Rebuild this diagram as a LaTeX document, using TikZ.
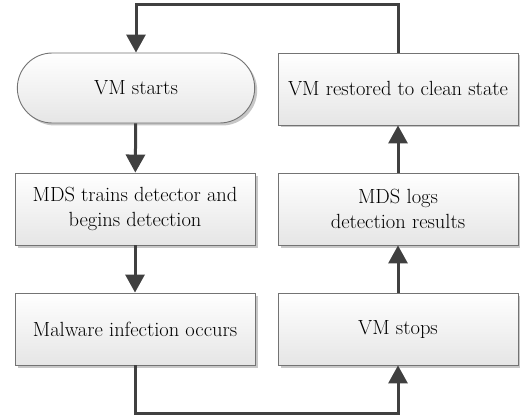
\documentclass[tikz,border=0pt]{standalone}
\usetikzlibrary{arrows.meta,shapes.misc,shadows}

\begin{document}
\begin{tikzpicture}[x=1pt, y=-1pt,
    stepbox/.style={rectangle, draw=black!55, line width=0.9pt,
      top color=white, bottom color=black!10,
      minimum width=240pt, minimum height=72pt, align=center,
      font=\rmfamily\fontsize{20.5}{25}\selectfont,
      drop shadow={shadow xshift=2.5pt, shadow yshift=-2.5pt, fill=black!22, opacity=1}},
    flow/.style={draw=black!75, line width=3pt, -{Triangle[length=18pt,width=19pt]}}]
    \useasboundingbox (0,0) rectangle (520,420);
    \coordinate (high) at (0,5);
    \coordinate (low) at (0,413);

    \node[stepbox, rounded rectangle, minimum width=244pt, minimum height=70pt] (start) at (136,88) {VM starts};
    \node[stepbox] (train) at (135,209) {MDS trains detector and\\begins detection};
    \node[stepbox] (infect) at (135,329) {Malware infection occurs};
    \node[stepbox] (stop) at (398,329) {VM stops};
    \node[stepbox] (log) at (398,209) {MDS logs\\detection results};
    \node[stepbox] (restore) at (398,89) {VM restored to clean state};

    \draw[flow] (start) -- (train);
    \draw[flow] (train) -- (infect);
    \draw[flow] (infect.south) -- (infect.south |- low) -| (stop.south);
    \draw[flow] (stop) -- (log);
    \draw[flow] (log) -- (restore);
    \draw[flow] (restore.north) -- (restore.north |- high) -| (start.north);
  \end{tikzpicture}
\end{document}
